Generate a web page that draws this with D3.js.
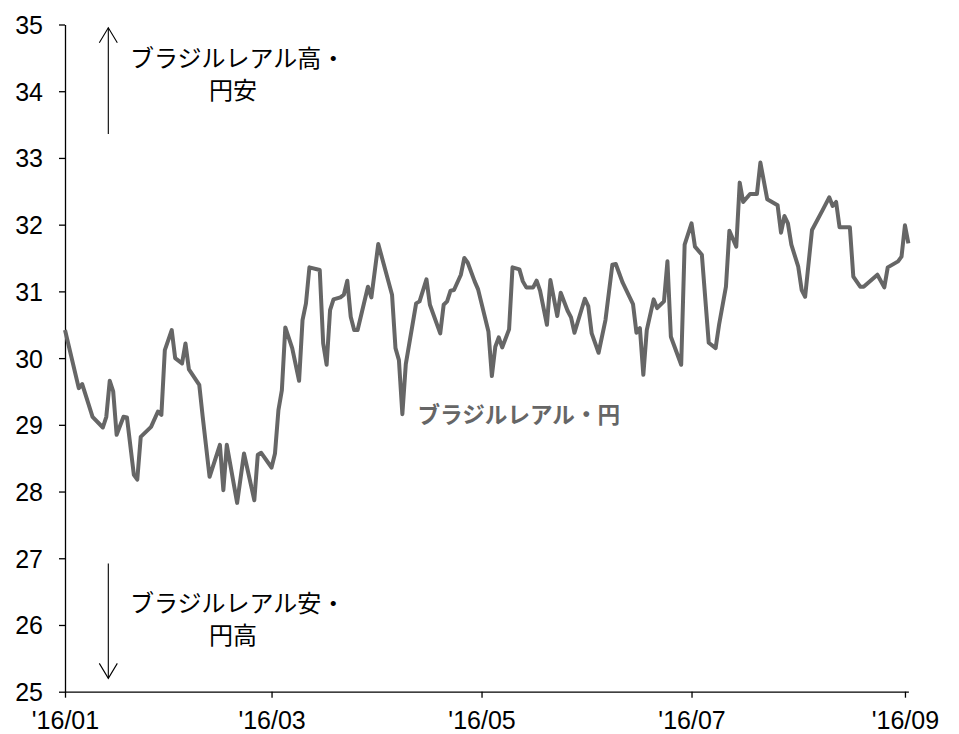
<!DOCTYPE html>
<html>
<head>
<meta charset="utf-8">
<script src="https://cdn.jsdelivr.net/npm/d3@7"></script>
<style>
  html, body { margin: 0; padding: 0; background: #fff; }
  svg { display: block; }
  .tick text { font-family: "Liberation Sans", Arial, sans-serif; font-size: 25px; fill: #000; }
  .jp { font-family: "Noto Sans CJK JP", sans-serif; }
</style>
</head>
<body>
<svg id="chart" width="959" height="734"></svg>
<script>
// BRL/JPY daily rate, Jan–Sep 2016
const dates = [
  "2016-01-01","2016-01-05","2016-01-06","2016-01-09","2016-01-12","2016-01-13","2016-01-14","2016-01-15",
  "2016-01-16","2016-01-18","2016-01-19","2016-01-21","2016-01-22","2016-01-23","2016-01-26","2016-01-28",
  "2016-01-29","2016-01-30","2016-02-01","2016-02-02","2016-02-04","2016-02-05","2016-02-06","2016-02-09",
  "2016-02-10","2016-02-12","2016-02-15","2016-02-16","2016-02-17","2016-02-20","2016-02-22","2016-02-25",
  "2016-02-26","2016-02-27","2016-03-01","2016-03-02","2016-03-03","2016-03-04","2016-03-05","2016-03-07",
  "2016-03-09","2016-03-10","2016-03-11","2016-03-12","2016-03-15","2016-03-16","2016-03-17","2016-03-18",
  "2016-03-19","2016-03-21","2016-03-22","2016-03-23","2016-03-24","2016-03-25","2016-03-26","2016-03-29",
  "2016-03-30","2016-04-01","2016-04-05","2016-04-06","2016-04-07","2016-04-08","2016-04-09","2016-04-12",
  "2016-04-13","2016-04-15","2016-04-16","2016-04-19","2016-04-20","2016-04-21","2016-04-22","2016-04-23",
  "2016-04-25","2016-04-26","2016-04-27","2016-04-29","2016-04-30","2016-05-03","2016-05-04","2016-05-05",
  "2016-05-06","2016-05-07","2016-05-09","2016-05-10","2016-05-12","2016-05-13","2016-05-14","2016-05-16",
  "2016-05-17","2016-05-18","2016-05-20","2016-05-21","2016-05-23","2016-05-24","2016-05-26","2016-05-27",
  "2016-05-28","2016-05-31","2016-06-01","2016-06-02","2016-06-04","2016-06-06","2016-06-08","2016-06-09",
  "2016-06-11","2016-06-14","2016-06-15","2016-06-16","2016-06-17","2016-06-18","2016-06-20","2016-06-21",
  "2016-06-23","2016-06-24","2016-06-25","2016-06-28","2016-06-29","2016-07-01","2016-07-02","2016-07-04",
  "2016-07-06","2016-07-08","2016-07-09","2016-07-11","2016-07-12","2016-07-14","2016-07-15","2016-07-16",
  "2016-07-18","2016-07-20","2016-07-21","2016-07-23","2016-07-26","2016-07-27","2016-07-28","2016-07-29",
  "2016-07-30","2016-08-01","2016-08-02","2016-08-03","2016-08-05","2016-08-08","2016-08-10","2016-08-11",
  "2016-08-12","2016-08-13","2016-08-16","2016-08-17","2016-08-19","2016-08-20","2016-08-24","2016-08-26",
  "2016-08-27","2016-08-30","2016-08-31","2016-09-01","2016-09-02"
];
const rates = [
  30.42,29.55,29.61,29.12,28.96,29.12,29.66,29.50,
  28.85,29.12,29.11,28.25,28.18,28.82,28.97,29.20,
  29.15,30.12,30.42,30.00,29.92,30.22,29.83,29.60,
  29.12,28.22,28.70,28.02,28.70,27.83,28.57,27.87,
  28.55,28.58,28.36,28.57,29.22,29.52,30.46,30.15,
  29.66,30.57,30.82,31.36,31.32,30.22,29.90,30.72,
  30.88,30.91,30.95,31.16,30.62,30.42,30.42,31.07,
  30.91,31.71,30.95,30.15,29.97,29.16,29.91,30.82,
  30.85,31.18,30.80,30.37,30.80,30.85,31.01,31.02,
  31.25,31.50,31.43,31.15,31.03,30.40,29.73,30.17,
  30.31,30.16,30.43,31.36,31.33,31.15,31.06,31.06,
  31.16,31.01,30.50,31.17,30.63,30.98,30.71,30.61,
  30.38,30.89,30.78,30.37,30.08,30.57,31.40,31.41,
  31.13,30.81,30.38,30.45,29.75,30.42,30.88,30.75,
  30.85,31.45,30.32,29.90,31.70,32.02,31.67,31.55,
  30.23,30.15,30.50,31.07,31.91,31.67,32.63,32.34,
  32.46,32.46,32.93,32.38,32.29,31.88,32.13,32.02,
  31.70,31.37,31.02,30.92,31.92,32.21,32.41,32.28,
  32.34,31.96,31.96,31.22,31.07,31.07,31.25,31.06,
  31.36,31.45,31.52,31.99,31.72
];

const yTicks = [25,26,27,28,29,30,31,32,33,34,35];
const xTickDates = ["2016-01-01","2016-03-01","2016-05-01","2016-07-01","2016-09-01"];
const xTickLabels = ["'16/01","'16/03","'16/05","'16/07","'16/09"];

const seriesName = "ブラジルレアル・円";
const upNote = ["ブラジルレアル高・", "円安"];
const downNote = ["ブラジルレアル安・", "円高"];

const parse = d3.utcParse("%Y-%m-%d");
const data = dates.map((d, i) => ({ date: parse(d), value: rates[i] }));

const svg = d3.select("#chart");

// x: Jan 1 .. Sep 2 (axis line runs slightly past the last tick)
const x = d3.scaleUtc()
  .domain([parse("2016-01-01"), parse("2016-09-02")])
  .range([65, 908.4]);
const y = d3.scaleLinear().domain([25, 35]).range([691.7, 24.5]);

// y axis
const yAxis = svg.append("g")
  .attr("transform", `translate(${x.range()[0]},0)`)
  .call(d3.axisLeft(y).tickValues(yTicks).tickFormat(d3.format("d"))
    .tickSize(6).tickSizeOuter(0).tickPadding(16));
yAxis.selectAll("text").attr("dy", "0.36em");

// x axis
const xTickVals = xTickDates.map(parse);
const xAxis = svg.append("g")
  .attr("transform", `translate(0,${y(25)})`)
  .call(d3.axisBottom(x).tickValues(xTickVals)
    .tickFormat((d, i) => xTickLabels[i])
    .tickSize(6).tickSizeOuter(0).tickPadding(14));
xAxis.selectAll("text").attr("dy", "0.71em");

svg.selectAll(".domain, .tick line").attr("stroke", "#000").attr("stroke-width", 1.3);

// rate line
const line = d3.line().x(d => x(d.date)).y(d => y(d.value));
svg.append("path")
  .datum(data)
  .attr("d", line)
  .attr("fill", "none")
  .attr("stroke", "#666666")
  .attr("stroke-width", 4)
  .attr("stroke-linejoin", "round");

// series label
svg.append("text")
  .attr("class", "jp")
  .attr("x", x(parse("2016-04-15")) - 9)
  .attr("y", y(29.02))
  .attr("font-size", 22.6)
  .attr("font-weight", "bold")
  .attr("fill", "#666666")
  .text(seriesName);

// direction arrows
const arrowX = x(parse("2016-01-13")) + 2;
function arrow(v0, v1) {
  const y0 = y(v0), y1 = y(v1);
  const dir = y1 < y0 ? 1 : -1;
  const g = svg.append("g").attr("stroke", "#000").attr("stroke-width", 1.1).attr("fill", "none");
  g.append("line").attr("x1", arrowX).attr("x2", arrowX).attr("y1", y0).attr("y2", y1);
  g.append("path").attr("d",
    `M${arrowX - 9},${y1 + dir * 15}L${arrowX},${y1}L${arrowX + 9},${y1 + dir * 15}`);
}
arrow(33.36, 34.95);
arrow(26.92, 25.2);

function note(lines, v1, v2) {
  const g = svg.append("g").attr("class", "jp").attr("font-size", 24).attr("fill", "#000");
  g.append("text").attr("x", 130).attr("y", y(v1)).text(lines[0]);
  g.append("text").attr("x", 233).attr("y", y(v2)).attr("text-anchor", "middle").text(lines[1]);
}
note(upNote, 34.36, 33.88);
note(downNote, 26.20, 25.72);
</script>
</body>
</html>
